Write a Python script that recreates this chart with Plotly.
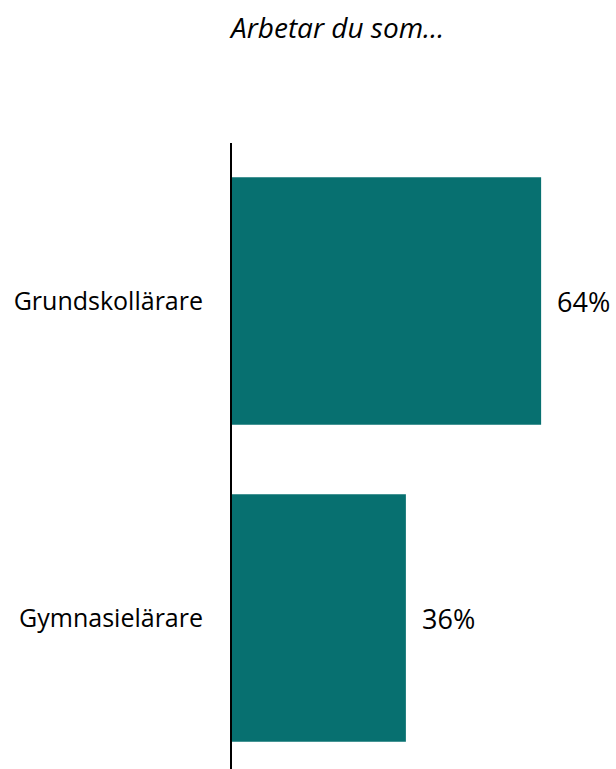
import plotly.graph_objects as go

categories = ["Grundskollärare", "Gymnasielärare"]
values = [64, 36]
labels = ["64%", "36%"]
title_text = "Arbetar du som…"

W, H = 616, 769
L, R, T, B = 232, 0, 143, 0
px_per_unit = 4.83
plot_w = W - L - R
plot_h = H - T - B
x_max = plot_w / px_per_unit
FONT = "Open Sans"

fig = go.Figure()
fig.add_trace(go.Bar(
    y=categories, x=values, orientation="h",
    marker=dict(color="#077070", line=dict(width=0)),
    width=0.78, hoverinfo="skip",
))

for c, v, t in zip(categories, values, labels):
    fig.add_annotation(x=v, y=c, text=t, showarrow=False, xanchor="left",
                       xshift=14, font=dict(family=FONT, size=27, color="#000000"))

fig.add_annotation(xref="paper", yref="paper",
                   x=(336 - L) / plot_w, y=1 + (T - 27) / plot_h,
                   text="<i>" + title_text + "</i>", showarrow=False,
                   xanchor="center", yanchor="middle",
                   font=dict(family=FONT, size=28, color="#000000"))

fig.update_layout(
    width=W, height=H,
    margin=dict(l=L, r=R, t=T, b=B, pad=0),
    paper_bgcolor="white", plot_bgcolor="white",
    showlegend=False,
    xaxis=dict(range=[0, x_max], showgrid=False, zeroline=False, showticklabels=False,
               showline=False, ticks=""),
    yaxis=dict(autorange=False, range=[1 + (769 - 618) / 317, -(301 - 143) / 317],
               showgrid=False, zeroline=False, showline=True, linecolor="#000000",
               linewidth=2, ticks="", ticklabelstandoff=22,
               tickfont=dict(family=FONT, size=25, color="#000000")),
)

fig.write_html("out.html",
               config={"displayModeBar": False},
               post_script="document.body.style.margin='0';document.body.style.overflow='hidden';")
